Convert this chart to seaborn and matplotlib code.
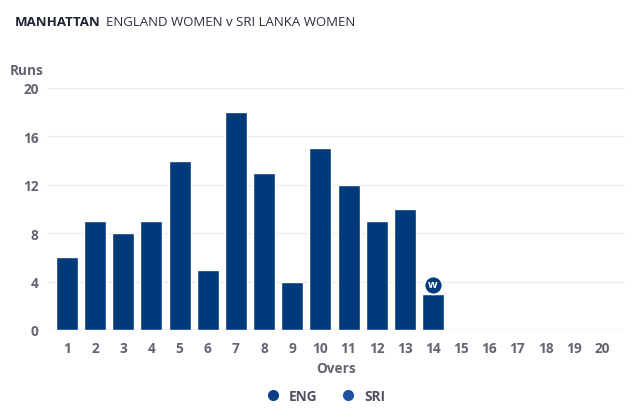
import matplotlib
matplotlib.use("Agg")
import matplotlib.pyplot as plt
import seaborn as sns
import pandas as pd
import numpy as np

overs = list(range(1, 21))
eng_runs = [6, 9, 8, 9, 14, 5, 18, 13, 4, 15, 12, 9, 10, 3]
wicket_overs = [14]
y_ticks = [0, 4, 8, 12, 16, 20]

sns.set_theme(style="white")
plt.rcParams['font.family'] = ['Open Sans', 'DejaVu Sans']

bar_color = "#003a7a"
text_gray = "#63636f"
grid_gray = "#ececef"

df = pd.DataFrame({"over": overs[:len(eng_runs)], "runs": eng_runs})

fig = plt.figure(figsize=(6.4, 4.14), dpi=100)
ax = fig.add_axes([47/640, 83/414, (625-47)/640, (331-89)/414])

ax.bar(df["over"], df["runs"], width=0.78, color=bar_color, zorder=3)

ax.set_xlim(0.29, 20.82)
ax.set_ylim(0, 20)
ax.set_yticks(y_ticks)
ax.set_yticklabels([str(v) for v in y_ticks], fontsize=9.8, fontweight='bold', color=text_gray)
ax.set_xticks(overs)
ax.set_xticklabels([str(o) for o in overs], fontsize=9.8, fontweight='bold', color=text_gray)
for y in y_ticks[1:]:
    ax.axhline(y, color=grid_gray, lw=0.9, zorder=1)
ax.axhline(0, color="#dcdce2", lw=1.0, zorder=2)
for s in ax.spines.values():
    s.set_visible(False)
ax.tick_params(axis='y', length=0, pad=6)
ax.tick_params(axis='x', length=4, color="#dcdce2", width=0.9, pad=4)

# wicket markers
for w in wicket_overs:
    r = eng_runs[w - 1]
    ax.scatter([w], [r + 0.72], s=165, color=bar_color, edgecolor='white', linewidth=1.2, zorder=5, clip_on=False)
    ax.text(w, r + 0.74, "w", color='white', fontsize=8, fontweight='bold', ha='center', va='center', zorder=6)

ax.set_xlabel("Overs", fontsize=9.8, fontweight='bold', color=text_gray, labelpad=4)
fig.text(10/640, 1 - 71/414, "Runs", fontsize=9.8, fontweight='bold', color=text_gray, ha='left', va='center')

# title
fig.text(15/640, 1 - 22/414, "MANHATTAN", fontsize=9.5, fontweight='bold', color="#1e2235", ha='left', va='center')
fig.text(106/640, 1 - 22/414, "ENGLAND WOMEN v SRI LANKA WOMEN", fontsize=9.5, color="#2b2e40", ha='left', va='center')

# legend
from matplotlib.lines import Line2D
handles = [Line2D([], [], marker='o', ls='', color="#0b3f84", markersize=7),
           Line2D([], [], marker='o', ls='', color="#1f51a0", markersize=7)]
leg = fig.legend(handles, ["ENG", "SRI"], loc='center', bbox_to_anchor=(322/640, 1 - 397/414), ncol=2,
                 frameon=False, handletextpad=0.2, columnspacing=1.2, prop={'weight': 'bold', 'size': 9.8})
for t in leg.get_texts():
    t.set_color("#505060")

fig.savefig("out.png", dpi=100)
